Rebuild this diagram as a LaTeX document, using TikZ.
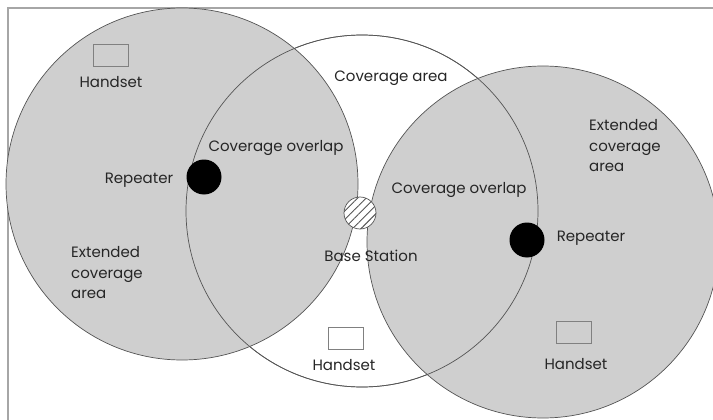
\documentclass[tikz,border=0pt]{standalone}
\usepackage{fontspec}
\setmainfont{Poppins}
\usetikzlibrary{patterns.meta}
\definecolor{areagray}{RGB}{207,207,207}
\definecolor{rimgray}{RGB}{85,85,85}
\tikzset{
  rim/.style={draw=rimgray, line width=0.7pt},
  txt/.style={font=\fontsize{15}{20.5}\selectfont, text=black!85, inner sep=1pt},
  handsetbox/.style={draw=gray, line width=0.6pt, minimum width=35pt, minimum height=22pt, inner sep=0pt},
  repeaterdot/.style={circle, fill=black, minimum size=35pt, inner sep=0pt},
}
\begin{document}
\begin{tikzpicture}[x=1pt,y=-1pt]
   \useasboundingbox (0,0) rectangle (713,420);
   \fill[white] (0,0) rectangle (713,420);
   \draw[gray!70, line width=1.5pt] (8,420) -- (8,8) -- (713,8);
   % coverage areas
   \filldraw[rim, fill=white] (362,211) circle (176pt);
   \fill[areagray] (182,184) circle (176pt);
   \fill[areagray] (543,242) circle (176pt);
   \foreach \cx/\cy in {182/184, 362/211, 543/242}
   {
       \draw[rim] (\cx,\cy) circle (176pt);
   }
   % stations
   \node[repeaterdot] (repL) at (204,177) {};
   \node[repeaterdot] (repR) at (527,240) {};
   \node[circle, draw=rimgray, line width=0.7pt, minimum size=32pt, inner sep=0pt, fill=white,
         postaction={pattern={Lines[angle=45,distance=6pt,line width=1pt]}, pattern color=rimgray}] (base) at (360,213) {};
   % handsets
   \foreach \n/\x/\y in {hsL/111/55, hsM/346/338, hsR/574/332}
   {
       \node[handsetbox] (\n) at (\x,\y) {};
   }
   % labels
   \node[txt] (hsLtext) at (111,82) {Handset};
   \node[txt] (hsMtext) at (344,365) {Handset};
   \node[txt] (hsRtext) at (576,364) {Handset};
   \node[txt] (covarea) at (391,78) {Coverage area};
   \node[txt] (overL) at (276,148) {Coverage overlap};
   \node[txt] (overR) at (459,190) {Coverage overlap};
   \node[txt] (repLtext) at (139,180) {Repeater};
   \node[txt] (repRtext) at (591,238) {Repeater};
   \node[txt] (basetext) at (371,256) {Base Station};
   \node[txt, align=left, anchor=west] (extL) at (70,273) {Extended\\coverage\\area};
   \node[txt, align=left, anchor=west] (extR) at (588,146) {Extended\\coverage\\area};
\end{tikzpicture}
\end{document}
